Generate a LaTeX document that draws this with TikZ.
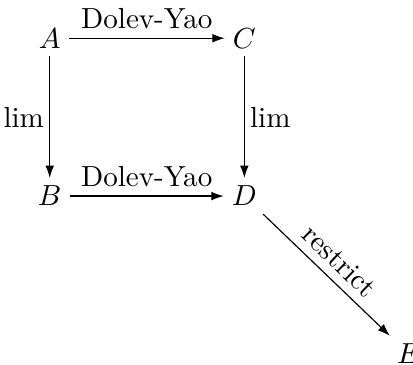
\documentclass[tikz,border=0pt]{standalone}
\usetikzlibrary{arrows.meta}

\begin{document}
\begin{tikzpicture}[x=0.872cm,y=0.872cm]
\tikzset{
  objnode/.style={inner sep=2.6pt},
  morph/.style={draw=black,line width=0.4pt,-{Latex[length=1.5mm,width=1.05mm]}},
  lbl/.style={inner sep=3pt},
  sidelbl/.style={inner sep=1.8pt}
}
\useasboundingbox (0,0) rectangle (5.73,-5.05);
\node[objnode] (n_A) at (0.69,-0.53) {$A$};
\node[objnode] (n_C) at (3.39,-0.53) {$C$};
\node[objnode] (n_B) at (0.69,-2.72) {$B$};
\node[objnode] (n_D) at (3.39,-2.72) {$D$};
\node[objnode] (n_E) at (5.67,-4.91) {$E$};
\draw[morph] (n_A) -- node[lbl,above] {Dolev-Yao} (n_C);
\draw[morph] (n_B) -- node[lbl,above] {Dolev-Yao} (n_D);
\draw[morph] (n_A) -- node[sidelbl,left] {lim} (n_B);
\draw[morph] (n_C) -- node[sidelbl,right] {lim} (n_D);
\draw[morph] (n_D) -- node[lbl,above,sloped] {restrict} (n_E);
\end{tikzpicture}
\end{document}
